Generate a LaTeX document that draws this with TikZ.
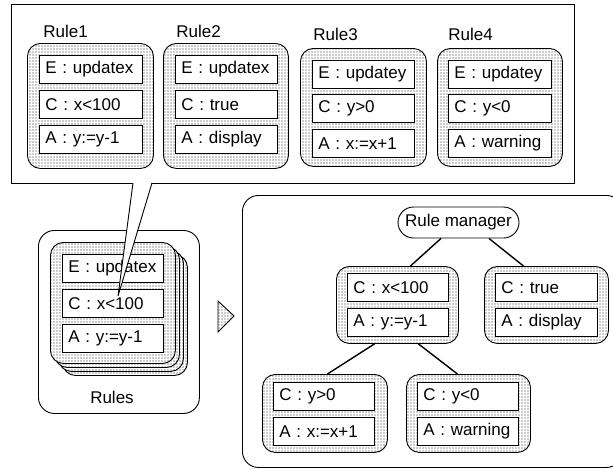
\documentclass[tikz,border=0pt]{standalone}
\usepackage{fontspec}
\setmainfont{Liberation Sans}
\usetikzlibrary{patterns,patterns.meta,shapes.misc,calc}
\begin{document}
\begin{tikzpicture}[x=1pt,y=-1pt, line width=0.9pt,
  dotfill/.style={preaction={fill=white}, pattern={Dots[distance=3pt, radius=0.55pt]}, pattern color=black!85},
  card/.style={draw, rounded corners=13pt, dotfill, inner sep=0pt, anchor=north west},
  fieldbox/.style={draw, fill=white, anchor=north west, minimum height=28pt, inner xsep=6pt, inner ysep=0pt, align=left, font=\fontsize{17}{20}\selectfont},
  lbl/.style={font=\fontsize{17}{20}\selectfont, inner sep=0pt},
  outer/.style={draw, rounded corners=16pt, fill=white, inner sep=0pt, anchor=north west},
  link/.style={line width=1.4pt}]
\useasboundingbox (0,0) rectangle (613,469);
\clip (0,0) rectangle (613,469);

% top panel
\node[draw, fill=white, anchor=north west, minimum width=563pt, minimum height=179pt, inner sep=0pt] (panel) at (11,4) {};

% Rule1
\node[lbl, anchor=west] (l1) at (43,31) {Rule1};
\node[card, minimum width=126pt, minimum height=125pt] (r1) at (27,43) {};
\node[fieldbox, text width=91pt] (r1e) at (39,55) {E : updatex};
\node[fieldbox, text width=91pt] (r1c) at (39,90) {C : x<100};
\node[fieldbox, text width=91pt] (r1a) at (39,125) {A : y:=y-1};
% Rule2
\node[lbl, anchor=west] (l2) at (176,31) {Rule2};
\node[card, minimum width=125pt, minimum height=125pt] (r2) at (163,43) {};
\node[fieldbox, text width=90pt] (r2e) at (175,55) {E : updatex};
\node[fieldbox, text width=90pt] (r2c) at (175,90) {C : true};
\node[fieldbox, text width=90pt] (r2a) at (175,125) {A : display};
% Rule3
\node[lbl, anchor=west] (l3) at (313,34) {Rule3};
\node[card, minimum width=126pt, minimum height=118pt] (r3) at (300,48) {};
\node[fieldbox, text width=90pt] (r3e) at (312,60) {E : updatey};
\node[fieldbox, text width=90pt] (r3c) at (312,94) {C : y>0};
\node[fieldbox, text width=90pt] (r3a) at (312,129) {A : x:=x+1};
% Rule4
\node[lbl, anchor=west] (l4) at (448,34) {Rule4};
\node[card, minimum width=125pt, minimum height=118pt] (r4) at (437,48) {};
\node[fieldbox, text width=91pt] (r4e) at (448,60) {E : updatey};
\node[fieldbox, text width=91pt] (r4c) at (448,94) {C : y<0};
\node[fieldbox, text width=91pt] (r4a) at (448,129) {A : warning};

% Rules box with stack
\node[outer, minimum width=161pt, minimum height=183pt] (rulesbox) at (38,230) {};
\node[lbl] (rulestxt) at (112,397) {Rules};
\node[card, minimum width=125pt, minimum height=121pt] (s3) at (62,254) {};
\node[card, minimum width=125pt, minimum height=121pt] (s2) at (58,250) {};
\node[card, minimum width=125pt, minimum height=121pt] (s1) at (54,246) {};
\node[card, minimum width=125pt, minimum height=121pt] (s0) at (50,242) {};
\node[fieldbox, text width=89pt] (se) at (62,254) {E : updatex};
\node[fieldbox, text width=89pt] (sc) at (62,289) {C : x<100};
\node[fieldbox, text width=89pt] (sa) at (62,324) {A : y:=y-1};

% callout pointer
\coordinate (tip) at (118,296);
\coordinate (pl) at (133,183);
\coordinate (pr) at (152,183);
\fill[white] (133,182) -- (tip) -- (152,182) -- cycle;
\draw (pl) -- (tip) -- (pr);

% transition triangle
\path[draw, dotfill] (218,301) -- (234,316) -- (218,332) -- cycle;

% tree box
\node[outer, minimum width=380pt, minimum height=272pt] (treebox) at (242,195) {};
\node[draw, fill=white, rounded rectangle, minimum width=121pt, minimum height=31pt, inner sep=0pt, font=\fontsize{17}{20}\selectfont] (rm) at (458.5,222.5) {Rule manager};

\node[card, minimum width=122pt, minimum height=77pt] (g1) at (336,266) {};
\node[fieldbox, text width=89pt] (g1c) at (347,273) {C : x<100};
\node[fieldbox, text width=89pt] (g1a) at (347,308) {A : y:=y-1};

\node[card, minimum width=124pt, minimum height=77pt] (g2) at (484,266) {};
\node[fieldbox, text width=90pt] (g2c) at (495,273) {C : true};
\node[fieldbox, text width=90pt] (g2a) at (495,308) {A : display};

\node[card, minimum width=125pt, minimum height=78pt] (g3) at (262,374) {};
\node[fieldbox, text width=89pt] (g3c) at (273,382) {C : y>0};
\node[fieldbox, text width=89pt] (g3a) at (273,417) {A : x:=x+1};

\node[card, minimum width=124pt, minimum height=78pt] (g4) at (406,374) {};
\node[fieldbox, text width=89pt] (g4c) at (417,382) {C : y<0};
\node[fieldbox, text width=89pt] (g4a) at (417,417) {A : warning};

\draw[link] ($(rm.south)+(-17.5,0)$) -- ($(g1.north)+(13,0)$);
\draw[link] ($(rm.south)+(30.5,0)$) -- ($(g2.north)+(-23,0)$);
\draw[link] ($(g1.south)+(-23,0)$) -- ($(g3.north)+(2.5,0)$);
\draw[link] ($(g1.south)+(21,0)$) -- ($(g4.north)+(-11,0)$);
\end{tikzpicture}
\end{document}
